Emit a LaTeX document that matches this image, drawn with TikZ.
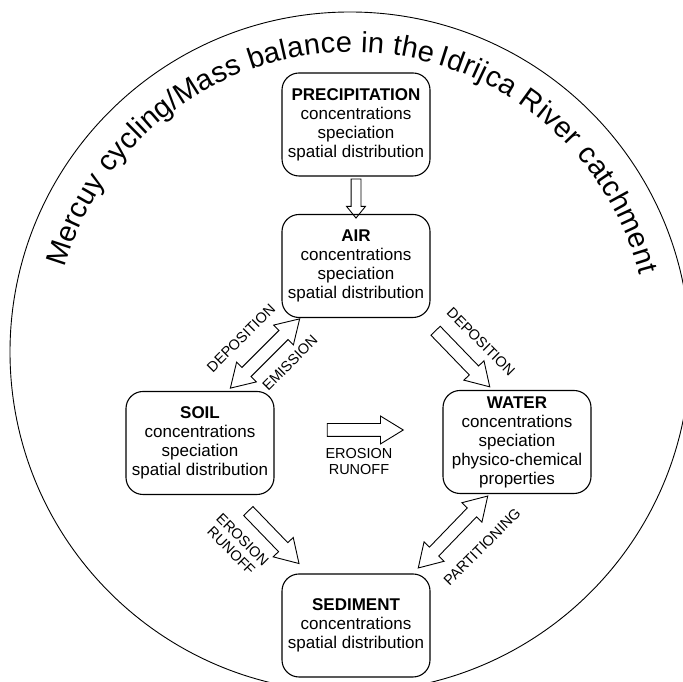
\documentclass[tikz,border=0pt]{standalone}
\usepackage{fontspec}
\setmainfont{Liberation Sans}
\usetikzlibrary{shapes.arrows,decorations.text}

\begin{document}
\begin{tikzpicture}[x=1pt, y=1pt,
    compartment/.style={draw, line width=1.1pt, rounded corners=17pt, minimum width=148pt, minimum height=103pt, inner sep=0pt, align=center, font=\fontsize{17}{19}\selectfont},
    flow/.style={draw, line width=0.9pt, single arrow, inner xsep=0pt, inner ysep=6pt, single arrow head extend=7.5pt, single arrow tip angle=63},
    exchange/.style={draw, line width=0.9pt, double arrow, inner xsep=0pt, inner ysep=6pt, double arrow head extend=7.5pt, double arrow tip angle=63},
    flowlabel/.style={font=\fontsize{14.5}{16}\selectfont, align=center, inner sep=0pt},
    titletext/.style={decorate, decoration={text along path, text align=fit to path, text format delimiters={|}{|}, text={|\fontsize{29}{30}\selectfont|#1}}}]

    \useasboundingbox (0,0) rectangle (683,682);
    \clip (0,0) rectangle (683,682);

    \draw[line width=0.9pt] (350,330) circle[radius=340];
    \path[titletext={Mercuy cycling/Mass balance in the}]
      (351.5,332) ++(164:298) arc[start angle=164, end angle=74.4, radius=298];
    \path[titletext={Idrijca River catchment}]
      (351.5,332) ++(73.2:298) arc[start angle=73.2, end angle=14.6, radius=298];

    \node[compartment] (precip) at (356,557.5) {\textbf{PRECIPITATION}\\concentrations\\speciation\\spatial distribution};
    \node[compartment] (air) at (356,416) {\textbf{AIR}\\concentrations\\speciation\\spatial distribution};
    \node[compartment] (soil) at (200,239) {\textbf{SOIL}\\concentrations\\speciation\\spatial distribution};
    \node[compartment] (water) at (517,240) {\textbf{WATER}\\concentrations\\speciation\\physico-chemical\\properties};
    \node[compartment] (sediment) at (356,56.5) {\textbf{SEDIMENT}\\concentrations\\spatial distribution};

    \node[flow, inner ysep=4.5pt, single arrow head extend=4.5pt, single arrow tip angle=78,
      minimum height=39pt, rotate=-90] (precip-air) at (356,486.5) {};
    \node[exchange, minimum height=98pt, rotate=45] (air-soil) at (265,328.5) {};
    \node[flow, minimum height=78pt, rotate=-46] (air-water) at (459,327) {};
    \node[flow, minimum height=76pt] (soil-water) at (360,252) {};
    \node[flow, minimum height=73pt, rotate=-46] (soil-sediment) at (270,148.5) {};
    \node[exchange, minimum height=100pt, rotate=46] (water-sediment) at (453,150) {};

    \node[flowlabel, rotate=45] (dep-soil) at (241,344) {DEPOSITION};
    \node[flowlabel, rotate=45] (emission) at (290,319) {EMISSION};
    \node[flowlabel, rotate=-45] (dep-water) at (481,340) {DEPOSITION};
    \node[flowlabel] (ero-water) at (359,220) {EROSION\\RUNOFF};
    \node[flowlabel, rotate=-45] (ero-sediment) at (237,137) {EROSION\\RUNOFF};
    \node[flowlabel, rotate=45] (partitioning) at (482,135) {PARTITIONING};
  \end{tikzpicture}
\end{document}
